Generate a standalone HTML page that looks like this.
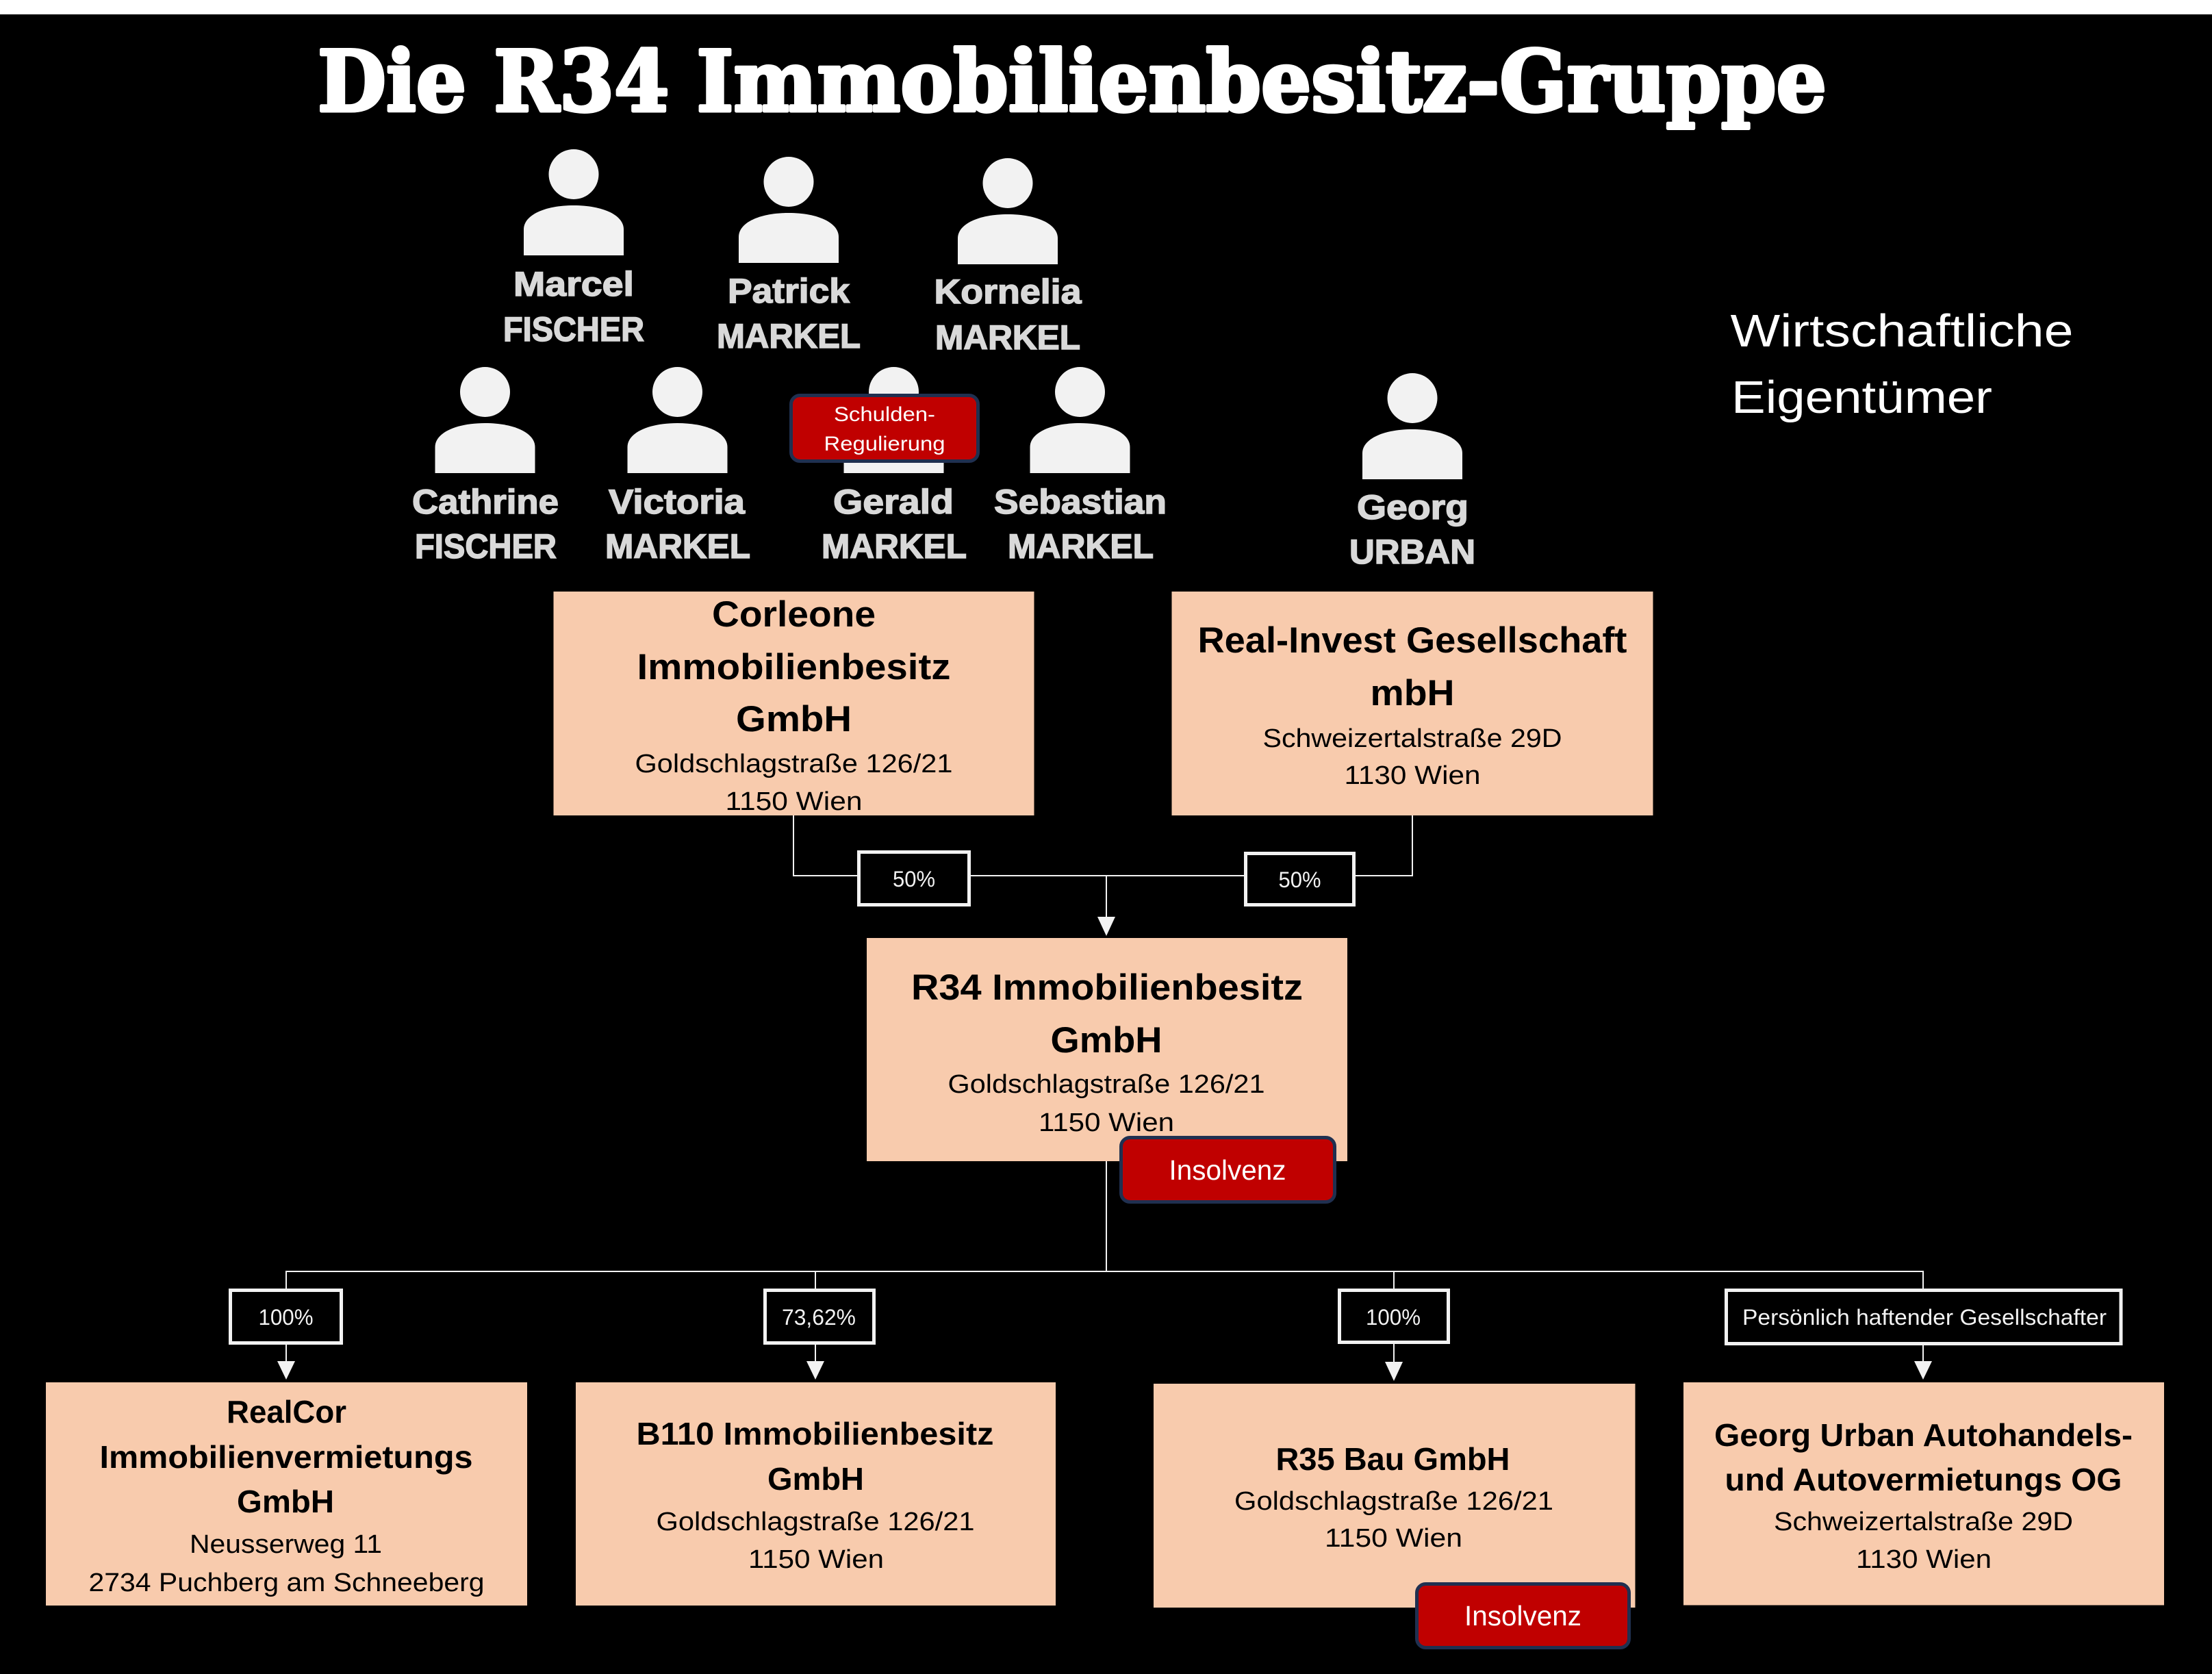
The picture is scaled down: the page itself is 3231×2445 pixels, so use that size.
<!DOCTYPE html>
<html>
<head>
<meta charset="utf-8">
<style>
html,body{margin:0;padding:0;background:#000;}
svg{display:block;}
.t{font-family:"Liberation Sans","DejaVu Sans",sans-serif;}
.b{font-weight:bold;}
.nm{font-family:"Liberation Sans","DejaVu Sans",sans-serif;font-weight:bold;fill:#d9d9d9;font-size:50px;stroke:#d9d9d9;stroke-width:1.5px;}
.bx{fill:#f8cbad;}
.lb{fill:#000;stroke:#f2f2f2;stroke-width:5;}
.ln{stroke:#f2f2f2;stroke-width:2;fill:none;}
.ah{fill:#f2f2f2;}
.p{fill:#f2f2f2;}
.badge{fill:#c00000;stroke:#203050;stroke-width:5;}
</style>
</head>
<body>
<svg xmlns="http://www.w3.org/2000/svg" width="3231" height="2445" viewBox="0 0 3231 2445">
<rect x="0" y="0" width="3231" height="2445" fill="#000"/>
<rect x="0" y="0" width="3231" height="21" fill="#fff"/>

<!-- Title -->
<text x="1566" y="162" text-anchor="middle" font-family="'DejaVu Serif','Liberation Serif',serif" font-weight="bold" font-size="123" fill="#fff" stroke="#fff" stroke-width="5" stroke-linejoin="round" textLength="2204" lengthAdjust="spacingAndGlyphs">Die R34 Immobilienbesitz-Gruppe</text>

<!-- Persons -->
<g class="p">
  <circle cx="838" cy="254.5" r="36.5"/>
  <path d="M765,373 V335 C765,314 796,300 838,300 C880,300 911,314 911,335 V373 Z"/>
  <circle cx="1152" cy="265.5" r="36.5"/>
  <path d="M1079,384 V346 C1079,325 1110,311 1152,311 C1194,311 1225,325 1225,346 V384 Z"/>
  <circle cx="1472" cy="267.5" r="36.5"/>
  <path d="M1399,386 V348 C1399,327 1430,313 1472,313 C1514,313 1545,327 1545,348 V386 Z"/>
  <circle cx="708.5" cy="572.5" r="36.5"/>
  <path d="M635.5,691 V653 C635.5,632 666.5,618 708.5,618 C750.5,618 781.5,632 781.5,653 V691 Z"/>
  <circle cx="989.5" cy="572.5" r="36.5"/>
  <path d="M916.5,691 V653 C916.5,632 947.5,618 989.5,618 C1031.5,618 1062.5,632 1062.5,653 V691 Z"/>
  <circle cx="1305.5" cy="572.5" r="36.5"/>
  <path d="M1232.5,691 V653 C1232.5,632 1263.5,618 1305.5,618 C1347.5,618 1378.5,632 1378.5,653 V691 Z"/>
  <circle cx="1577.5" cy="572.5" r="36.5"/>
  <path d="M1504.5,691 V653 C1504.5,632 1535.5,618 1577.5,618 C1619.5,618 1650.5,632 1650.5,653 V691 Z"/>
  <circle cx="2063" cy="581.5" r="36.5"/>
  <path d="M1990,700 V662 C1990,641 2021,627 2063,627 C2105,627 2136,641 2136,662 V700 Z"/>
</g>

<!-- Names -->
<text class="nm" x="838" y="432" text-anchor="middle" textLength="176" lengthAdjust="spacingAndGlyphs">Marcel</text>
<text class="nm" x="838" y="498" text-anchor="middle" textLength="206" lengthAdjust="spacingAndGlyphs">FISCHER</text>
<text class="nm" x="1152" y="442" text-anchor="middle" textLength="178" lengthAdjust="spacingAndGlyphs">Patrick</text>
<text class="nm" x="1152" y="508" text-anchor="middle" textLength="210" lengthAdjust="spacingAndGlyphs">MARKEL</text>
<text class="nm" x="1472" y="443" text-anchor="middle" textLength="215" lengthAdjust="spacingAndGlyphs">Kornelia</text>
<text class="nm" x="1472" y="510" text-anchor="middle" textLength="212" lengthAdjust="spacingAndGlyphs">MARKEL</text>

<text class="nm" x="709" y="750" text-anchor="middle" textLength="214" lengthAdjust="spacingAndGlyphs">Cathrine</text>
<text class="nm" x="709.5" y="815" text-anchor="middle" textLength="207" lengthAdjust="spacingAndGlyphs">FISCHER</text>
<text class="nm" x="988.5" y="750" text-anchor="middle" textLength="199" lengthAdjust="spacingAndGlyphs">Victoria</text>
<text class="nm" x="990" y="815" text-anchor="middle" textLength="212" lengthAdjust="spacingAndGlyphs">MARKEL</text>
<text class="nm" x="1305" y="750" text-anchor="middle" textLength="176" lengthAdjust="spacingAndGlyphs">Gerald</text>
<text class="nm" x="1306" y="815" text-anchor="middle" textLength="212" lengthAdjust="spacingAndGlyphs">MARKEL</text>
<text class="nm" x="1578" y="750" text-anchor="middle" textLength="252" lengthAdjust="spacingAndGlyphs">Sebastian</text>
<text class="nm" x="1578.5" y="815" text-anchor="middle" textLength="213" lengthAdjust="spacingAndGlyphs">MARKEL</text>
<text class="nm" x="2063.5" y="758" text-anchor="middle" textLength="163" lengthAdjust="spacingAndGlyphs">Georg</text>
<text class="nm" x="2063" y="823" text-anchor="middle" textLength="184" lengthAdjust="spacingAndGlyphs">URBAN</text>

<!-- Schulden badge -->
<rect class="badge" x="1155.5" y="577.5" width="273" height="96" rx="13" ry="13"/>
<text class="t" x="1292" y="615" text-anchor="middle" font-size="30" fill="#fff" textLength="148" lengthAdjust="spacingAndGlyphs">Schulden-</text>
<text class="t" x="1292" y="658" text-anchor="middle" font-size="30" fill="#fff" textLength="177" lengthAdjust="spacingAndGlyphs">Regulierung</text>

<!-- Wirtschaftliche Eigentümer -->
<text class="t" x="2527.5" y="506" font-size="67" fill="#fff" textLength="501" lengthAdjust="spacingAndGlyphs">Wirtschaftliche</text>
<text class="t" x="2529" y="603" font-size="67" fill="#fff" textLength="381" lengthAdjust="spacingAndGlyphs">Eigentümer</text>

<!-- Connectors top -->
<path class="ln" d="M1159,1191 V1279 H1254"/>
<path class="ln" d="M1416,1279 H1819"/>
<path class="ln" d="M1978,1279 H2063 V1191"/>
<path class="ln" d="M1616,1279 V1340"/>
<path class="ah" d="M1603,1339 L1629,1339 L1616,1367 Z"/>

<!-- 50% labels -->
<rect class="lb" x="1254.5" y="1244.5" width="161" height="77"/>
<text class="t" x="1335" y="1295" text-anchor="middle" font-size="32" fill="#f2f2f2" textLength="62" lengthAdjust="spacingAndGlyphs">50%</text>
<rect class="lb" x="1819.5" y="1246.5" width="158" height="75"/>
<text class="t" x="1898.5" y="1296" text-anchor="middle" font-size="32" fill="#f2f2f2" textLength="62" lengthAdjust="spacingAndGlyphs">50%</text>

<!-- Corleone -->
<rect class="bx" x="808.5" y="864" width="702" height="327"/>
<g class="t" fill="#000" text-anchor="middle">
<text class="b" x="1159.5" y="915" font-size="53" textLength="239" lengthAdjust="spacingAndGlyphs">Corleone</text>
<text class="b" x="1159.5" y="992" font-size="53" textLength="458" lengthAdjust="spacingAndGlyphs">Immobilienbesitz</text>
<text class="b" x="1159.5" y="1068" font-size="53" textLength="169" lengthAdjust="spacingAndGlyphs">GmbH</text>
<text x="1159.5" y="1128" font-size="38" textLength="464" lengthAdjust="spacingAndGlyphs">Goldschlagstraße 126/21</text>
<text x="1159.5" y="1183" font-size="38" textLength="200" lengthAdjust="spacingAndGlyphs">1150 Wien</text>
</g>

<!-- Real-Invest -->
<rect class="bx" x="1711.5" y="864" width="703" height="327"/>
<g class="t" fill="#000" text-anchor="middle">
<text class="b" x="2063" y="953" font-size="53" textLength="627" lengthAdjust="spacingAndGlyphs">Real-Invest Gesellschaft</text>
<text class="b" x="2063" y="1030" font-size="53" textLength="123" lengthAdjust="spacingAndGlyphs">mbH</text>
<text x="2063" y="1091" font-size="38" textLength="437" lengthAdjust="spacingAndGlyphs">Schweizertalstraße 29D</text>
<text x="2063" y="1145" font-size="38" textLength="199" lengthAdjust="spacingAndGlyphs">1130 Wien</text>
</g>

<!-- R34 -->
<rect class="bx" x="1266" y="1370" width="702" height="326"/>
<g class="t" fill="#000" text-anchor="middle">
<text class="b" x="1617" y="1460" font-size="53" textLength="572" lengthAdjust="spacingAndGlyphs">R34 Immobilienbesitz</text>
<text class="b" x="1616" y="1537" font-size="53" textLength="163" lengthAdjust="spacingAndGlyphs">GmbH</text>
<text x="1616" y="1596" font-size="38" textLength="463" lengthAdjust="spacingAndGlyphs">Goldschlagstraße 126/21</text>
<text x="1616" y="1652" font-size="38" textLength="198" lengthAdjust="spacingAndGlyphs">1150 Wien</text>
</g>

<!-- Connectors bottom -->
<path class="ln" d="M1616,1696 V1857"/>
<path class="ln" d="M418,1884 V1857 H2809 V1884"/>
<path class="ln" d="M1191,1857 V1884"/>
<path class="ln" d="M2036,1857 V1884"/>

<path class="ln" d="M418,1962 V1990"/>
<path class="ah" d="M405,1988 L431,1988 L418,2015 Z"/>
<path class="ln" d="M1191,1962 V1990"/>
<path class="ah" d="M1178,1988 L1204,1988 L1191,2015 Z"/>
<path class="ln" d="M2036,1962 V1990"/>
<path class="ah" d="M2023,1989 L2049,1989 L2036,2017 Z"/>
<path class="ln" d="M2809,1963 V1990"/>
<path class="ah" d="M2796,1988 L2822,1988 L2809,2015 Z"/>

<!-- Bottom labels -->
<rect class="lb" x="336.5" y="1884.5" width="162" height="77"/>
<text class="t" x="417.5" y="1935" text-anchor="middle" font-size="32" fill="#f2f2f2" textLength="80" lengthAdjust="spacingAndGlyphs">100%</text>
<rect class="lb" x="1117.5" y="1884.5" width="159" height="77"/>
<text class="t" x="1196" y="1935" text-anchor="middle" font-size="32" fill="#f2f2f2" textLength="108" lengthAdjust="spacingAndGlyphs">73,62%</text>
<rect class="lb" x="1956.5" y="1884.5" width="159" height="76"/>
<text class="t" x="2035" y="1935" text-anchor="middle" font-size="32" fill="#f2f2f2" textLength="80" lengthAdjust="spacingAndGlyphs">100%</text>
<rect class="lb" x="2521.5" y="1884.5" width="576.5" height="78"/>
<text class="t" x="2811" y="1935" text-anchor="middle" font-size="32" fill="#f2f2f2" textLength="532" lengthAdjust="spacingAndGlyphs">Persönlich haftender Gesellschafter</text>

<!-- RealCor -->
<rect class="bx" x="67" y="2019" width="703" height="326"/>
<g class="t" fill="#000" text-anchor="middle">
<text class="b" x="418.5" y="2078" font-size="46" textLength="175" lengthAdjust="spacingAndGlyphs">RealCor</text>
<text class="b" x="418" y="2144" font-size="46" textLength="545" lengthAdjust="spacingAndGlyphs">Immobilienvermietungs</text>
<text class="b" x="417" y="2209" font-size="46" textLength="142" lengthAdjust="spacingAndGlyphs">GmbH</text>
<text x="417.5" y="2268" font-size="38" textLength="281" lengthAdjust="spacingAndGlyphs">Neusserweg 11</text>
<text x="418.5" y="2324" font-size="38" textLength="578" lengthAdjust="spacingAndGlyphs">2734 Puchberg am Schneeberg</text>
</g>

<!-- B110 -->
<rect class="bx" x="841" y="2019" width="701" height="326"/>
<g class="t" fill="#000" text-anchor="middle">
<text class="b" x="1190.5" y="2110" font-size="46" textLength="522" lengthAdjust="spacingAndGlyphs">B110 Immobilienbesitz</text>
<text class="b" x="1191.5" y="2176" font-size="46" textLength="141" lengthAdjust="spacingAndGlyphs">GmbH</text>
<text x="1191" y="2235" font-size="38" textLength="465" lengthAdjust="spacingAndGlyphs">Goldschlagstraße 126/21</text>
<text x="1192" y="2290" font-size="38" textLength="198" lengthAdjust="spacingAndGlyphs">1150 Wien</text>
</g>

<!-- R35 -->
<rect class="bx" x="1685" y="2021" width="703.5" height="327"/>
<g class="t" fill="#000" text-anchor="middle">
<text class="b" x="2034.5" y="2147" font-size="46" textLength="342" lengthAdjust="spacingAndGlyphs">R35 Bau GmbH</text>
<text x="2036" y="2205" font-size="38" textLength="466" lengthAdjust="spacingAndGlyphs">Goldschlagstraße 126/21</text>
<text x="2035.5" y="2259" font-size="38" textLength="201" lengthAdjust="spacingAndGlyphs">1150 Wien</text>
</g>

<!-- Georg Urban -->
<rect class="bx" x="2459" y="2019" width="702" height="325.5"/>
<g class="t" fill="#000" text-anchor="middle">
<text class="b" x="2809.5" y="2112" font-size="46" textLength="611" lengthAdjust="spacingAndGlyphs">Georg Urban Autohandels-</text>
<text class="b" x="2809.5" y="2177" font-size="46" textLength="580" lengthAdjust="spacingAndGlyphs">und Autovermietungs OG</text>
<text x="2809.5" y="2235" font-size="38" textLength="437" lengthAdjust="spacingAndGlyphs">Schweizertalstraße 29D</text>
<text x="2810" y="2290" font-size="38" textLength="198" lengthAdjust="spacingAndGlyphs">1130 Wien</text>
</g>

<!-- Insolvenz badges -->
<rect class="badge" x="1637.5" y="1661.5" width="312" height="94" rx="13" ry="13"/>
<text class="t" x="1793" y="1723" text-anchor="middle" font-size="41" fill="#fff" textLength="171" lengthAdjust="spacingAndGlyphs">Insolvenz</text>
<rect class="badge" x="2069.5" y="2313.5" width="310" height="93" rx="13" ry="13"/>
<text class="t" x="2224.5" y="2374" text-anchor="middle" font-size="41" fill="#fff" textLength="171" lengthAdjust="spacingAndGlyphs">Insolvenz</text>
</svg>
</body>
</html>
